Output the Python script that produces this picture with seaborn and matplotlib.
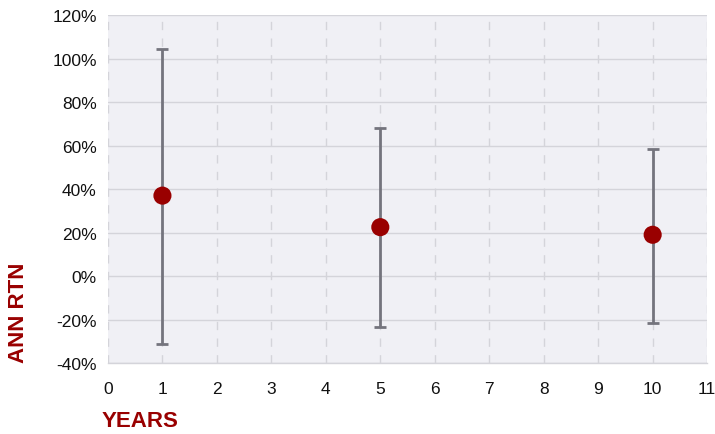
import matplotlib
matplotlib.use("Agg")
import matplotlib.pyplot as plt
import seaborn as sns
import pandas as pd
from matplotlib.ticker import FuncFormatter, MultipleLocator

# Annualized return ranges by holding period
years = [1, 5, 10]
avg_return = [37.0, 22.5, 19.0]
max_return = [104.5, 68.0, 58.5]
min_return = [-31.0, -23.3, -21.5]

df = pd.DataFrame({"years": years, "avg": avg_return, "hi": max_return, "lo": min_return})

sns.set_theme(style="darkgrid")
plt.rcParams["font.family"] = ["Liberation Sans", "DejaVu Sans"]

fig = plt.figure(figsize=(7.15, 4.35), dpi=100)
ax = fig.add_axes([0.151, 0.163, 0.838, 0.800])
ax.set_facecolor("#F0F0F5")

ax.errorbar(df["years"], df["avg"],
            yerr=[df["avg"] - df["lo"], df["hi"] - df["avg"]],
            fmt="none", ecolor="#74747D", elinewidth=2.0, capsize=4.5, capthick=2.0, zorder=3)
sns.scatterplot(data=df, x="years", y="avg", ax=ax, color="#990000", s=170,
                edgecolor="none", zorder=4, legend=False)

ax.set_xlim(0, 11)
ax.set_ylim(-40, 120)
ax.xaxis.set_major_locator(MultipleLocator(1))
ax.yaxis.set_major_locator(MultipleLocator(20))
ax.yaxis.set_major_formatter(FuncFormatter(lambda v, p: f"{v:.0f}%"))

ax.grid(axis="y", color="#D4D4DA", linewidth=1.0, linestyle="-")
ax.grid(axis="x", color="#D4D4DA", linewidth=1.0, linestyle=(0, (6, 6)))
for s in ["top", "right", "left"]:
    ax.spines[s].set_visible(False)
ax.spines["bottom"].set_visible(True)
ax.spines["bottom"].set_color("#D4D4DA")
ax.spines["bottom"].set_linewidth(1.0)

ax.tick_params(axis="both", labelsize=12.5, colors="#111111", length=0)
ax.tick_params(axis="x", pad=13)
ax.tick_params(axis="y", pad=8)
ax.set_xlabel("")
ax.set_ylabel("")

fig.text(0.026, 0.28, "ANN RTN", rotation=90, color="#990000", fontsize=16,
         fontweight="bold", ha="center", va="center")
fig.text(0.142, 0.03, "YEARS", color="#990000", fontsize=16,
         fontweight="bold", ha="left", va="center")

fig.savefig("out.png", dpi=100)
